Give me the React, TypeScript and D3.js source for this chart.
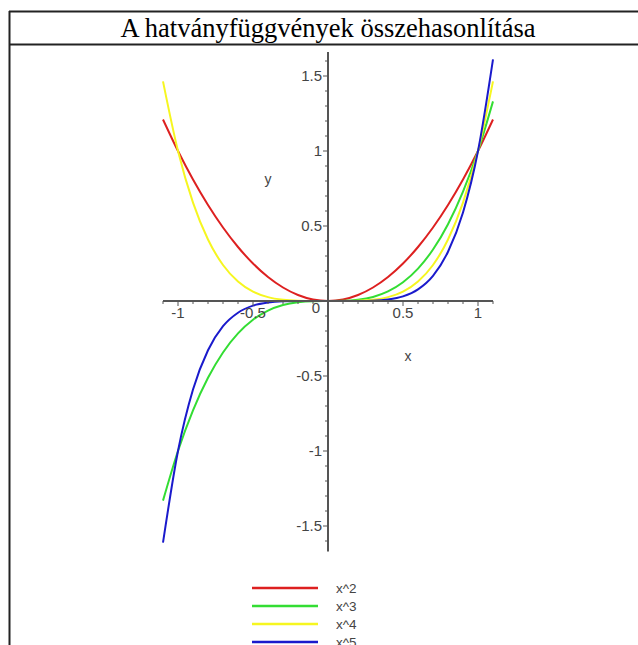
import React from "react";
import * as d3 from "d3";

const xs = [
  -1.1, -1.0, -0.9, -0.8, -0.7, -0.6, -0.5, -0.4, -0.3, -0.2, -0.1, 0, 0.1, 0.2, 0.3,
  0.4, 0.5, 0.6, 0.7, 0.8, 0.9, 1.0, 1.1,
];
const sq = [
  1.21, 1.0, 0.81, 0.64, 0.49, 0.36, 0.25, 0.16, 0.09, 0.04, 0.01, 0, 0.01, 0.04, 0.09,
  0.16, 0.25, 0.36, 0.49, 0.64, 0.81, 1.0, 1.21,
];
const cube = [
  -1.331, -1.0, -0.729, -0.512, -0.343, -0.216, -0.125, -0.064, -0.027, -0.008, -0.001, 0,
  0.001, 0.008, 0.027, 0.064, 0.125, 0.216, 0.343, 0.512, 0.729, 1.0, 1.331,
];
const fourth = [
  1.464, 1.0, 0.656, 0.41, 0.24, 0.13, 0.0625, 0.0256, 0.0081, 0.0016, 0.0001, 0, 0.0001,
  0.0016, 0.0081, 0.0256, 0.0625, 0.13, 0.24, 0.41, 0.656, 1.0, 1.464,
];
const fifth = [
  -1.611, -1.0, -0.59, -0.328, -0.168, -0.078, -0.031, -0.01, -0.002, -0.0003, 0, 0, 0,
  0.0003, 0.002, 0.01, 0.031, 0.078, 0.168, 0.328, 0.59, 1.0, 1.611,
];

const seriesNames = ["x^2", "x^3", "x^4", "x^5"];
const seriesValues = [sq, cube, fourth, fifth];
const seriesColors = ["#dd2020", "#33dd33", "#f6f620", "#1a1acc"];

const xTickValues = [-1, -0.5, 0.5, 1];
const xTickLabels = ["-1", "-0.5", "0.5", "1"];
const yTickValues = [-1.5, -1, -0.5, 0.5, 1, 1.5];
const yTickLabels = ["-1.5", "-1", "-0.5", "0.5", "1", "1.5"];

const title = "A hatványfüggvények összehasonlítása";

export default function App() {
  const width = 638;
  const height = 645;

  const x = d3.scaleLinear().domain([-1.1, 1.1]).range([163, 493]);
  const y = d3.scaleLinear().domain([-1, 1]).range([451, 151]);

  const line = d3
    .line<number>()
    .x((_, i) => x(xs[i]))
    .y((d) => y(d))
    .curve(d3.curveMonotoneX);

  const axisColor = "#555";
  const textColor = "#444";
  const font = "'Liberation Sans', Arial, sans-serif";

  const xMinor = d3.range(-11, 12).map((i) => i / 10);
  const yMinor = d3.range(-16, 17).map((i) => i / 10);

  const legendX = d3.scaleLinear().domain([0, 1]).range([252, 318]);
  const legendY = d3.scaleBand<number>().domain([0, 1, 2, 3]).range([579, 651]);

  return (
    <svg
      width={width}
      height={height}
      style={{ position: "absolute", left: 0, top: 0, background: "#fff" }}
    >
      {/* frame */}
      <line x1={9} x2={width} y1={11.5} y2={11.5} stroke="#222" strokeWidth={2} />
      <line x1={9} x2={width} y1={44.5} y2={44.5} stroke="#222" strokeWidth={2} />
      <line x1={9.5} x2={9.5} y1={11} y2={height} stroke="#222" strokeWidth={2} />
      <text
        x={328}
        y={37}
        textAnchor="middle"
        fontFamily="'Liberation Serif', 'Times New Roman', serif"
        fontSize={26.5}
        fill="#000"
      >
        {title}
      </text>

      {/* curves */}
      {seriesValues.map((vals, i) => (
        <path
          key={seriesNames[i]}
          d={line(vals) ?? ""}
          fill="none"
          stroke={seriesColors[i]}
          strokeWidth={2}
        />
      ))}

      {/* x axis */}
      <line x1={x(-1.1)} x2={x(1.1)} y1={y(0)} y2={y(0)} stroke={axisColor} strokeWidth={2} />
      {xMinor.map((v) => (
        <line
          key={"xm" + v}
          x1={x(v)}
          x2={x(v)}
          y1={y(0)}
          y2={y(0) + (Math.abs(v * 2 - Math.round(v * 2)) < 1e-9 ? 5 : 3)}
          stroke={axisColor}
          strokeWidth={1}
        />
      ))}
      {xTickValues.map((v, i) => (
        <text
          key={"xt" + v}
          x={x(v)}
          y={y(0) + 17}
          textAnchor="middle"
          fontFamily={font}
          fontSize={15}
          fill={textColor}
        >
          {xTickLabels[i]}
        </text>
      ))}
      <text x={x(0) - 12} y={y(0) + 12} textAnchor="middle" fontFamily={font} fontSize={15} fill={textColor}>
        0
      </text>

      {/* y axis */}
      <line x1={x(0)} x2={x(0)} y1={y(1.66)} y2={y(-1.67)} stroke={axisColor} strokeWidth={2} />
      {yMinor.map((v) => (
        <line
          key={"ym" + v}
          x1={x(0) - (Math.abs(v * 2 - Math.round(v * 2)) < 1e-9 ? 5 : 3)}
          x2={x(0)}
          y1={y(v)}
          y2={y(v)}
          stroke={axisColor}
          strokeWidth={1}
        />
      ))}
      {yTickValues.map((v, i) => (
        <text
          key={"yt" + v}
          x={x(0) - 6}
          y={y(v) + 5}
          textAnchor="end"
          fontFamily={font}
          fontSize={15}
          fill={textColor}
        >
          {yTickLabels[i]}
        </text>
      ))}

      {/* axis titles */}
      <text x={268} y={184} textAnchor="middle" fontFamily={font} fontSize={14} fill={textColor}>
        y
      </text>
      <text x={408} y={361} textAnchor="middle" fontFamily={font} fontSize={14} fill={textColor}>
        x
      </text>

      {/* legend */}
      {seriesNames.map((name, i) => {
        const ly = (legendY(i) ?? 0) + legendY.bandwidth() / 2;
        return (
          <g key={"lg" + name}>
            <line
              x1={legendX(0)}
              x2={legendX(1)}
              y1={ly}
              y2={ly}
              stroke={seriesColors[i]}
              strokeWidth={2.5}
            />
            <text x={336} y={ly + 5} fontFamily={font} fontSize={13.5} fill={textColor}>
              {name}
            </text>
          </g>
        );
      })}
    </svg>
  );
}
